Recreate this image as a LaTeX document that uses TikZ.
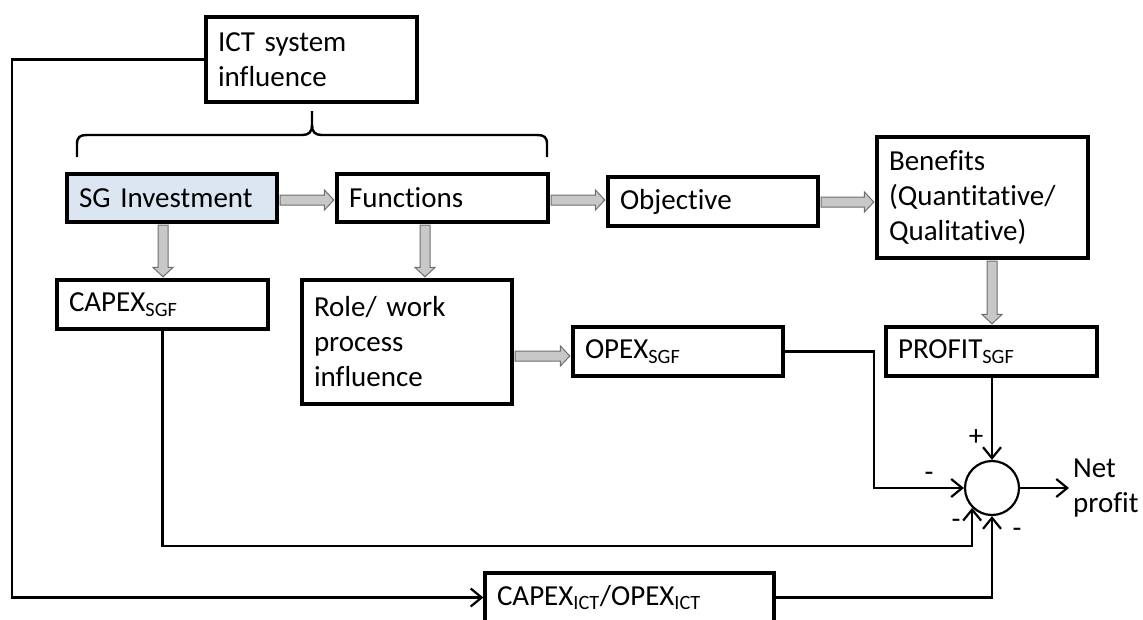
\documentclass[tikz,border=0pt]{standalone}
\usepackage{fontspec}
\setmainfont[Ligatures=NoCommon]{Carlito}
\usetikzlibrary{arrows.meta,calc}
\definecolor{sgblue}{HTML}{DCE6F2}
\definecolor{fatfill}{HTML}{C8C8C8}
\definecolor{fatline}{HTML}{6E6E6E}

% thick grey block arrow between two boxes, horizontal (#3 = height of the shaft)
\newcommand\fatarrowh[3]{%
  \path[fatarrow] let \p1=(#1.east), \p2=(#2.west), \p3=(0,#3) in
    (\x1+1.6pt,\y3+5pt) -- (\x2-11pt,\y3+5pt) -- (\x2-11pt,\y3+10pt) --
    (\x2-1.6pt,\y3) -- (\x2-11pt,\y3-10pt) -- (\x2-11pt,\y3-5pt) --
    (\x1+1.6pt,\y3-5pt) -- cycle;}
% same, pointing down (#3 = x position of the shaft)
\newcommand\fatarrowv[3]{%
  \path[fatarrow] let \p1=(#1.south), \p2=(#2.north), \p3=(#3,0) in
    (\x3-5pt,\y1-1.6pt) -- (\x3-5pt,\y2+11pt) -- (\x3-10pt,\y2+11pt) --
    (\x3,\y2+1.6pt) -- (\x3+10pt,\y2+11pt) -- (\x3+5pt,\y2+11pt) --
    (\x3+5pt,\y1-1.6pt) -- cycle;}

\begin{document}
\begin{tikzpicture}[x=1pt,y=-1pt,
  every node/.style={font=\fontsize{29}{35}\selectfont},
  box/.style={draw, line width=3.2pt, inner xsep=12pt, inner ysep=0pt, align=left},
  conn/.style={line width=2.2pt},
  tip/.style={-{Straight Barb[length=11pt,width=18pt,line width=2.2pt]}},
  fatarrow/.style={fill=fatfill, draw=fatline, line width=1pt},
  sign/.style={inner sep=0pt}]
\useasboundingbox (0,0) rectangle (1143,619);

% boxes
\node[box, text width=187pt, minimum height=85pt] (ICT) at (311.5,59.5) {ICT system\\influence};
\node[box, fill=sgblue, text width=186pt, minimum height=48pt] (SG) at (172,198) {SG Investment};
\node[box, text width=187pt, minimum height=48pt] (FN) at (442.5,198) {Functions};
\node[box, text width=186pt, minimum height=49pt] (OBJ) at (713,201.5) {Objective};
\node[box, text width=187pt, minimum height=121pt] (BEN) at (982.5,197.5) {Benefits\\(Quantitative/\\Qualitative)};
\node[box, text width=187pt, minimum height=49pt] (CSGF) at (162.5,304.5) {CAPEX\textsubscript{SGF}};
\node[box, text width=186pt, minimum height=124pt] (ROLE) at (407,342) {Role/ work\\process\\influence};
\node[box, text width=186pt, minimum height=49pt] (OPEX) at (678,351.5) {OPEX\textsubscript{SGF}};
\node[box, text width=187pt, minimum height=49pt] (PROF) at (991.5,351.5) {PROFIT\textsubscript{SGF}};
\node[box, text width=265pt, minimum height=49pt] (CICT) at (629.5,597.5) {CAPEX\textsubscript{ICT}/OPEX\textsubscript{ICT}};

% summing junction and output label
\node[draw, circle, line width=2.2pt, minimum size=54pt, inner sep=0pt] (S) at (992,488) {};
\node[anchor=west, align=left, inner sep=0pt] (NPL) at (1073,488) {Net\\profit};

% brace grouping the investment and functions
\draw[line width=2.4pt] (77,157) -- (77,144) .. controls (77,137) and (80,135) .. (87,135)
  -- (302,135) .. controls (309,135) and (312,132) .. (312,125) -- (312,111);
\draw[line width=2.4pt] (547,157) -- (547,144) .. controls (547,137) and (544,135) .. (537,135)
  -- (322,135) .. controls (315,135) and (312,132) .. (312,125);

% block arrows
\fatarrowh{SG}{FN}{200}
\fatarrowh{FN}{OBJ}{200}
\fatarrowh{OBJ}{BEN}{202}
\fatarrowh{ROLE}{OPEX}{356}
\fatarrowv{SG}{CSGF}{163}
\fatarrowv{FN}{ROLE}{425}
\fatarrowv{BEN}{PROF}{992}

% signal lines
\coordinate (L) at (12,0);
\coordinate (J) at (874,0);
\draw[conn,tip] (ICT.west) -| (L |- CICT.west) -- (CICT.west);
\draw[conn,tip] (PROF.south -| S.north) -- (S.north);
\draw[conn,tip] (OPEX.east) -| (J |- S.west) -- (S.west);
\draw[conn,tip] (CSGF.south) |- (S.225 |- 0,546) -- (S.225);
\draw[conn,tip] (CICT.east) -| (S.south);
\draw[conn,tip] (S.east) -- ([xshift=-4pt]NPL.west);

% signs at the junction
\node[sign] (plus) at (976,438) {+};
\node[sign] (mopex) at (929,477) {-};
\node[sign] (mcapex) at (956,524) {-};
\node[sign] (mict) at (1017,533) {-};
\end{tikzpicture}
\end{document}
